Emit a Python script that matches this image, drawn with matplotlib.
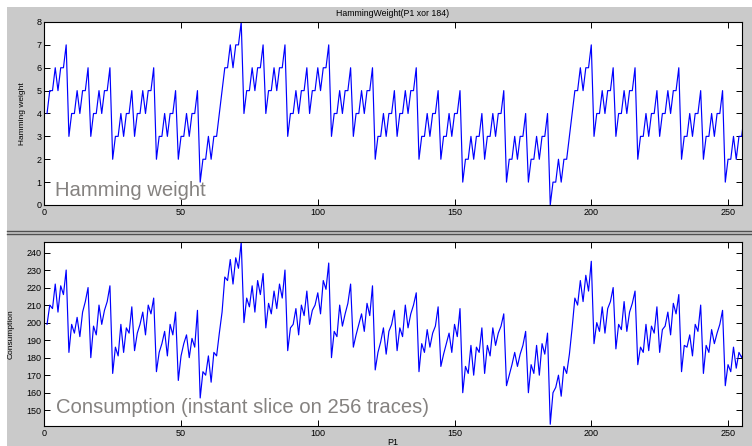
import numpy as np
import matplotlib
matplotlib.use('Agg')
import matplotlib.pyplot as plt
from matplotlib.patches import Rectangle
from matplotlib.lines import Line2D

plt.rcParams['font.family'] = ['Liberation Sans', 'DejaVu Sans']

# P1 = 0..255, hamming weight of (P1 xor 184), one row per high nibble
hamming = [
    4, 5, 5, 6, 5, 6, 6, 7, 3, 4, 4, 5, 4, 5, 5, 6,
    3, 4, 4, 5, 4, 5, 5, 6, 2, 3, 3, 4, 3, 4, 4, 5,
    3, 4, 4, 5, 4, 5, 5, 6, 2, 3, 3, 4, 3, 4, 4, 5,
    2, 3, 3, 4, 3, 4, 4, 5, 1, 2, 2, 3, 2, 3, 3, 4,
    5, 6, 6, 7, 6, 7, 7, 8, 4, 5, 5, 6, 5, 6, 6, 7,
    4, 5, 5, 6, 5, 6, 6, 7, 3, 4, 4, 5, 4, 5, 5, 6,
    4, 5, 5, 6, 5, 6, 6, 7, 3, 4, 4, 5, 4, 5, 5, 6,
    3, 4, 4, 5, 4, 5, 5, 6, 2, 3, 3, 4, 3, 4, 4, 5,
    3, 4, 4, 5, 4, 5, 5, 6, 2, 3, 3, 4, 3, 4, 4, 5,
    2, 3, 3, 4, 3, 4, 4, 5, 1, 2, 2, 3, 2, 3, 3, 4,
    2, 3, 3, 4, 3, 4, 4, 5, 1, 2, 2, 3, 2, 3, 3, 4,
    1, 2, 2, 3, 2, 3, 3, 4, 0, 1, 1, 2, 1, 2, 2, 3,
    4, 5, 5, 6, 5, 6, 6, 7, 3, 4, 4, 5, 4, 5, 5, 6,
    3, 4, 4, 5, 4, 5, 5, 6, 2, 3, 3, 4, 3, 4, 4, 5,
    3, 4, 4, 5, 4, 5, 5, 6, 2, 3, 3, 4, 3, 4, 4, 5,
    2, 3, 3, 4, 3, 4, 4, 5, 1, 2, 2, 3, 2, 3, 3, 4,
]

consumption = [
    199, 210, 208, 222, 206, 221, 216, 230, 183, 199, 194, 203, 192, 206, 212, 220,
    180, 198, 193, 210, 199, 207, 212, 221, 171, 186, 181, 199, 183, 197, 194, 209,
    184, 194, 199, 206, 193, 210, 205, 214, 172, 183, 188, 195, 181, 199, 193, 206,
    167, 181, 188, 193, 180, 191, 186, 207, 157, 172, 170, 181, 166, 183, 181, 194,
    206, 226, 224, 236, 222, 237, 231, 246, 200, 214, 209, 221, 206, 224, 216, 228,
    197, 211, 205, 218, 208, 222, 214, 230, 184, 197, 199, 208, 193, 210, 204, 218,
    199, 207, 210, 217, 205, 224, 219, 234, 180, 195, 192, 210, 198, 205, 211, 222,
    186, 193, 199, 205, 195, 211, 204, 221, 173, 183, 189, 197, 182, 195, 199, 207,
    184, 197, 192, 210, 197, 205, 210, 217, 172, 188, 183, 196, 186, 194, 198, 209,
    175, 182, 188, 194, 183, 199, 192, 208, 160, 175, 171, 187, 170, 186, 183, 197,
    171, 187, 181, 197, 187, 194, 198, 205, 164, 170, 176, 183, 175, 182, 187, 195,
    160, 176, 171, 187, 170, 188, 182, 194, 142, 160, 163, 170, 158, 175, 171, 182,
    197, 214, 210, 224, 212, 227, 218, 235, 188, 200, 195, 209, 194, 208, 212, 220,
    185, 199, 196, 212, 195, 206, 211, 218, 176, 186, 183, 199, 184, 198, 194, 209,
    183, 196, 198, 206, 193, 211, 205, 216, 172, 187, 186, 193, 181, 199, 195, 210,
    171, 187, 183, 196, 188, 194, 199, 207, 164, 176, 172, 186, 174, 183, 180, 185,
]

x = np.arange(1, len(hamming) + 1)

W, H = 752, 446
fig = plt.figure(figsize=(W / 100, H / 100), dpi=100, facecolor='white')

# gray matlab-like figure background, with a thin white margin left/top
fig.patches.append(Rectangle((7 / W, 0), 1, 1 - 7 / H, transform=fig.transFigure,
                             facecolor='#cacaca', edgecolor='none', zorder=-10))
for yy in (231, 234):
    fig.lines.append(Line2D([7 / W, 1], [1 - yy / H, 1 - yy / H], transform=fig.transFigure,
                            color='#505050', lw=1.0))

def style(ax):
    ax.set_facecolor('white')
    for s in ax.spines.values():
        s.set_color('black')
        s.set_linewidth(0.8)
    ax.tick_params(direction='in', top=True, right=True, length=4, width=0.7,
                   labelsize=6.5, pad=2, colors='black')

left, width = 44.3 / W, (741.7 - 44.3) / W

ax1 = fig.add_axes([left, 1 - 205 / H, width, (205 - 22) / H])
ax1.plot(x, hamming, color='#0000ff', lw=0.85)
ax1.set_xlim(0, 255)
ax1.set_ylim(0, 8)
ax1.set_xticks([0, 50, 100, 150, 200, 250])
ax1.set_yticks(range(0, 9))
style(ax1)
ax1.set_title('HammingWeight(P1 xor 184)', fontsize=6.3, pad=4)
ax1.set_ylabel('Hamming weight', fontsize=6)
ax1.yaxis.set_label_coords(-0.026, 0.5)

ax2 = fig.add_axes([left, 1 - 426 / H, width, (426 - 242) / H])
ax2.plot(x, consumption, color='#0000ff', lw=0.85)
ax2.set_xlim(0, 255)
ax2.set_ylim(min(consumption) - 1, max(consumption))
ax2.set_xticks([0, 50, 100, 150, 200, 250])
ax2.set_yticks(range(150, 241, 10))
style(ax2)
ax2.set_ylabel('Consumption', fontsize=6)
ax2.yaxis.set_label_coords(-0.042, 0.5)
ax2.set_xlabel('P1', fontsize=6.5, labelpad=0)

fig.text(55 / W, 1 - 196 / H, 'Hamming weight', fontsize=14.6, color='#858280')
fig.text(56 / W, 1 - 413 / H, 'Consumption (instant slice on 256 traces)',
         fontsize=14.6, color='#858280')

fig.savefig('out.png', dpi=100, facecolor=fig.get_facecolor())
